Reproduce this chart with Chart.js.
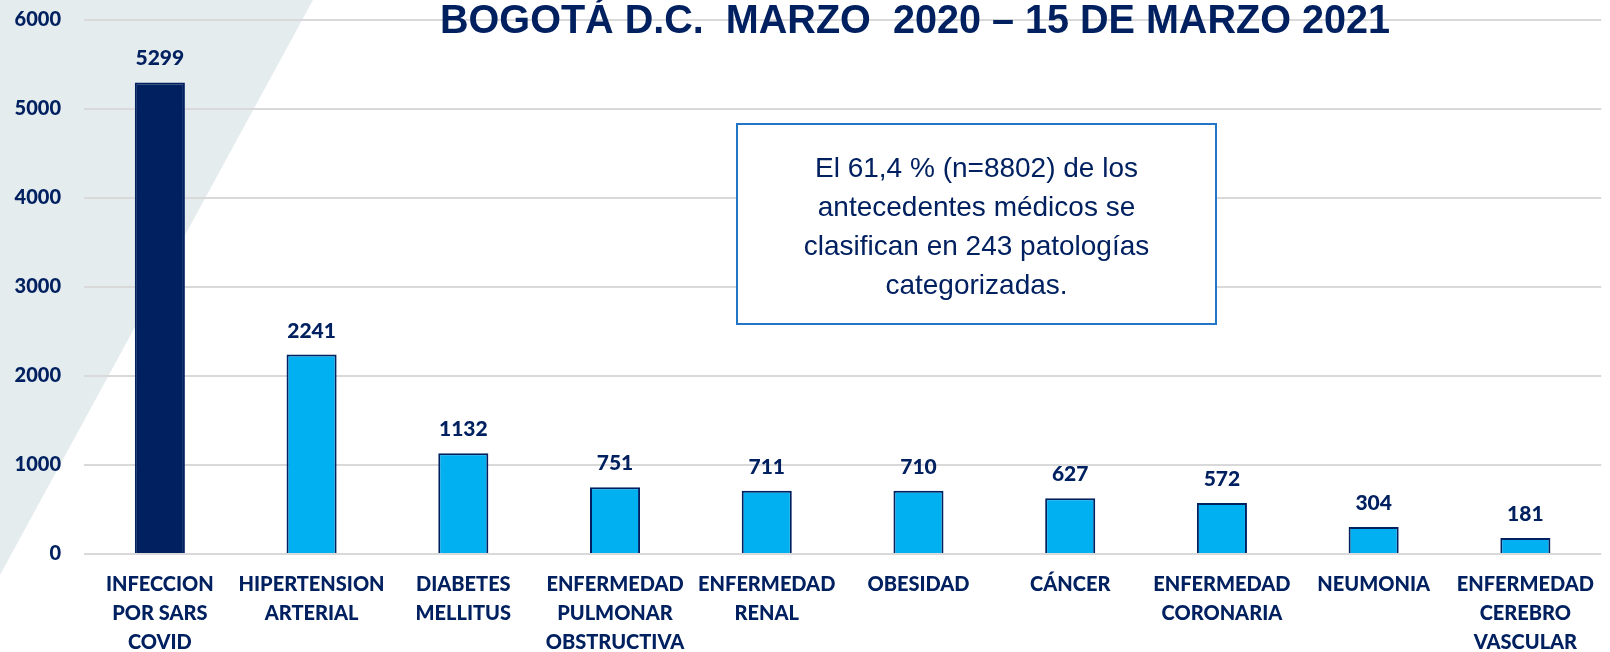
<!DOCTYPE html>
<html lang="es">
<head>
<meta charset="utf-8">
<title>Antecedentes médicos - Bogotá D.C.</title>
<script src="https://cdn.jsdelivr.net/npm/chart.js@4"></script>
<style>
  html, body { margin: 0; padding: 0; background: #ffffff; }
  canvas { display: block; }
</style>
</head>
<body>
<canvas id="antecedentesChart" width="1610" height="652"></canvas>
<script>
// Datos
const categories = [
  ['INFECCION', 'POR SARS', 'COVID'],
  ['HIPERTENSION', 'ARTERIAL'],
  ['DIABETES', 'MELLITUS'],
  ['ENFERMEDAD', 'PULMONAR', 'OBSTRUCTIVA'],
  ['ENFERMEDAD', 'RENAL'],
  ['OBESIDAD'],
  ['CÁNCER'],
  ['ENFERMEDAD', 'CORONARIA'],
  ['NEUMONIA'],
  ['ENFERMEDAD', 'CEREBRO', 'VASCULAR']
];
const casos = [5299, 2241, 1132, 751, 711, 710, 627, 572, 304, 181];
const yTicks = [0, 1000, 2000, 3000, 4000, 5000, 6000];

const titleText = 'BOGOTÁ D.C.  MARZO  2020 – 15 DE MARZO 2021';
const noteLines = [
  'El 61,4 % (n=8802) de los',
  'antecedentes médicos se',
  'clasifican en 243 patologías',
  'categorizadas.'
];

const NAVY = '#002060';
const LIGHT_BLUE = '#00B0F0';
const labelFont = "'Lato', 'Open Sans', sans-serif";

// Fondo con la franja gris diagonal
const backgroundPlugin = {
  id: 'background',
  beforeDraw(chart) {
    const ctx = chart.ctx;
    ctx.save();
    ctx.fillStyle = '#ffffff';
    ctx.fillRect(0, 0, chart.width, chart.height);
    ctx.fillStyle = '#E5ECEE';
    ctx.beginPath();
    ctx.moveTo(0, 0);
    ctx.lineTo(313, 0);
    ctx.lineTo(0, 575);
    ctx.closePath();
    ctx.fill();
    ctx.restore();
  }
};

// Valores encima de cada barra
const valueLabelsPlugin = {
  id: 'valueLabels',
  afterDatasetsDraw(chart) {
    const ctx = chart.ctx;
    const meta = chart.getDatasetMeta(0);
    ctx.save();
    ctx.font = `900 21px ${labelFont}`;
    ctx.fillStyle = NAVY;
    ctx.textAlign = 'center';
    ctx.textBaseline = 'alphabetic';
    meta.data.forEach((bar, i) => {
      ctx.fillText(String(casos[i]), bar.x, bar.y - 17);
    });
    ctx.restore();
  }
};

// Título y cuadro de texto
const annotationsPlugin = {
  id: 'annotations',
  afterDraw(chart) {
    const ctx = chart.ctx;
    ctx.save();

    // título (ajustado al ancho del original)
    ctx.font = "bold 40px 'Liberation Sans', Arial, sans-serif";
    ctx.fillStyle = NAVY;
    ctx.textAlign = 'left';
    ctx.textBaseline = 'alphabetic';
    const w = ctx.measureText(titleText).width;
    const sx = 950 / w;
    ctx.save();
    ctx.translate(440, 33);
    ctx.scale(sx, 1);
    ctx.fillText(titleText, 0, 0);
    ctx.restore();

    // cuadro
    const bx = 737, by = 124, bw = 479, bh = 200;
    ctx.fillStyle = '#ffffff';
    ctx.fillRect(bx, by, bw, bh);
    ctx.strokeStyle = '#2176C7';
    ctx.lineWidth = 2;
    ctx.strokeRect(bx, by, bw, bh);

    ctx.font = "28px 'Liberation Sans', Arial, sans-serif";
    ctx.fillStyle = NAVY;
    ctx.textAlign = 'center';
    noteLines.forEach((line, i) => {
      ctx.fillText(line, bx + bw / 2, 177 + i * 39);
    });
    ctx.restore();
  }
};

const ctx = document.getElementById('antecedentesChart');

new Chart(ctx, {
  type: 'bar',
  data: {
    labels: categories,
    datasets: [{
      data: casos,
      backgroundColor: casos.map((v, i) => i === 0 ? NAVY : LIGHT_BLUE),
      borderColor: NAVY,
      borderWidth: 2,
      barPercentage: 0.33,
      categoryPercentage: 1
    }]
  },
  options: {
    responsive: false,
    devicePixelRatio: 1,
    animation: false,
    layout: { padding: { top: 20, left: 0, right: 0, bottom: 0 } },
    plugins: {
      legend: { display: false },
      title: { display: false },
      tooltip: { enabled: false }
    },
    scales: {
      x: {
        grid: { display: false, drawTicks: false },
        border: { display: false },
        ticks: {
          color: NAVY,
          font: { family: labelFont, size: 20, weight: '900', lineHeight: 1.45 },
          padding: 16,
          maxRotation: 0,
          minRotation: 0,
          autoSkip: false
        },
        afterFit(scale) {
          scale.height = 98;
          scale.paddingTop = 0;
          scale.paddingBottom = 0;
        }
      },
      y: {
        min: 0,
        max: 6000,
        afterBuildTicks(scale) {
          scale.ticks = yTicks.map(v => ({ value: v }));
        },
        grid: { color: '#D9D9D9', lineWidth: 2, drawTicks: false },
        border: { display: false },
        ticks: {
          color: NAVY,
          font: { family: labelFont, size: 20, weight: '900' },
          padding: 23,
          callback: (value) => String(value)
        },
        afterFit(scale) {
          scale.width = 84;
          scale.paddingTop = 0;
          scale.paddingBottom = 0;
        }
      }
    }
  },
  plugins: [backgroundPlugin, valueLabelsPlugin, annotationsPlugin]
});
</script>
</body>
</html>
